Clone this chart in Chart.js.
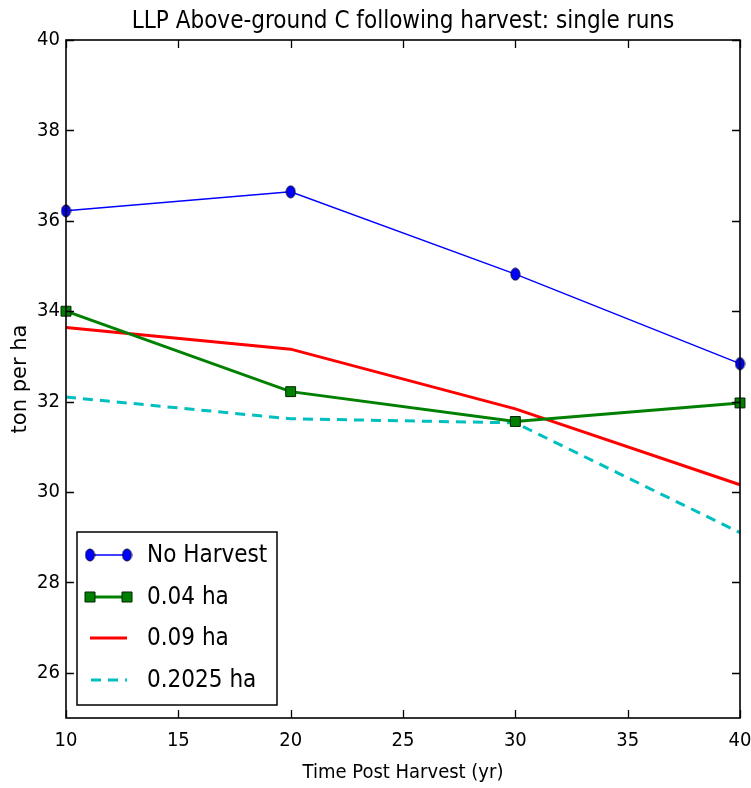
<!DOCTYPE html>
<html>
<head>
<meta charset="utf-8">
<script src="https://cdn.jsdelivr.net/npm/chart.js@4.4.1/dist/chart.umd.min.js"></script>
<style>
  html, body { margin: 0; padding: 0; background: #fff; }
  #wrap { width: 751px; height: 788px; }
</style>
</head>
<body>
<div id="wrap"><canvas id="myChart" width="751" height="788"></canvas></div>
<script>
// values
const years = [10, 20, 30, 40];
const noHarvest = [36.22, 36.64, 34.82, 32.84];
const ha004 = [34.0, 32.22, 31.56, 31.97];
const ha009 = [33.64, 33.16, 31.84, 30.16];
const ha02025 = [32.1, 31.62, 31.53, 29.1];
const yTicks = [26, 28, 30, 32, 34, 36, 38, 40];
const xTicks = [10, 15, 20, 25, 30, 35, 40];
const titleText = 'LLP Above-ground C following harvest: single runs';

const FONT = "'DejaVu Sans Condensed', 'DejaVu Sans', sans-serif";

function pts(arr) {
  return arr.map((v, i) => ({ x: years[i], y: v }));
}

// the original circles are a bit squeezed sideways
function ellipseMarker() {
  const c = document.createElement('canvas');
  c.width = 11; c.height = 14;
  const g = c.getContext('2d');
  g.fillStyle = '#0000ff';
  g.strokeStyle = '#000033';
  g.lineWidth = 1;
  g.beginPath();
  g.ellipse(5.5, 7, 4.5, 6, 0, 0, Math.PI * 2);
  g.fill(); g.stroke();
  return c;
}
const blueDot = ellipseMarker();

// matplotlib-like frame with inward ticks on all four sides, title over the axes
const framePlugin = {
  id: 'frame',
  afterDraw(chart) {
    const { ctx, chartArea: a, scales } = chart;
    ctx.save();
    ctx.strokeStyle = '#000';
    ctx.lineWidth = 1.3;
    const L = 8;
    ctx.beginPath();
    xTicks.forEach(t => {
      const px = Math.round(scales.x.getPixelForValue(t)) + 0.5;
      ctx.moveTo(px, a.bottom); ctx.lineTo(px, a.bottom - L);
      ctx.moveTo(px, a.top); ctx.lineTo(px, a.top + L);
    });
    yTicks.forEach(t => {
      const py = Math.round(scales.y.getPixelForValue(t)) + 0.5;
      ctx.moveTo(a.left, py); ctx.lineTo(a.left + L, py);
      ctx.moveTo(a.right, py); ctx.lineTo(a.right - L, py);
    });
    ctx.stroke();
    ctx.lineWidth = 1.6;
    ctx.strokeRect(a.left, a.top, a.right - a.left, a.bottom - a.top);

    ctx.fillStyle = '#000';
    ctx.font = '24px ' + FONT;
    ctx.textAlign = 'center';
    ctx.textBaseline = 'middle';
    ctx.fillText(titleText, (a.left + a.right) / 2, 22);
    ctx.restore();
  }
};

// boxed legend in the lower left corner, like the original
const boxLegend = {
  id: 'boxLegend',
  afterDraw(chart) {
    const { ctx, chartArea: a } = chart;
    const x0 = a.left + 11, y0 = 532, w = 200, h = 173;
    ctx.save();
    ctx.fillStyle = '#fff';
    ctx.fillRect(x0, y0, w, h);
    ctx.strokeStyle = '#000';
    ctx.lineWidth = 1.5;
    ctx.strokeRect(x0, y0, w, h);
    const rows = [555, 597, 638, 680];
    chart.data.datasets.forEach((ds, i) => {
      const y = rows[i];
      const sx0 = x0 + 13, sx1 = x0 + 50;
      ctx.strokeStyle = ds.borderColor;
      ctx.lineWidth = ds.borderWidth;
      ctx.setLineDash(ds.borderDash || []);
      ctx.beginPath();
      if (ds.borderDash) {
        ctx.moveTo(sx0 + 1, y); ctx.lineTo(sx1, y);
      } else {
        ctx.moveTo(sx0, y); ctx.lineTo(sx1, y);
      }
      ctx.stroke();
      ctx.setLineDash([]);
      if (ds.pointRadius > 0) {
        [sx0, sx1].forEach(px => {
          if (ds.pointStyle === 'rect') {
            ctx.fillStyle = ds.pointBackgroundColor;
            ctx.strokeStyle = ds.pointBorderColor;
            ctx.lineWidth = 1;
            ctx.beginPath();
            ctx.rect(px - 5, y - 5, 10, 10);
            ctx.fill(); ctx.stroke();
          } else {
            ctx.drawImage(blueDot, px - 5.5, y - 7);
          }
        });
      }
      ctx.fillStyle = '#000';
      ctx.font = '24px ' + FONT;
      ctx.textBaseline = 'middle';
      ctx.fillText(ds.label, x0 + 70, y + 1);
    });
    ctx.restore();
  }
};

const ctx = document.getElementById('myChart');
const myChart = new Chart(ctx, {
  type: 'line',
  data: {
    datasets: [
      {
        label: 'No Harvest',
        data: pts(noHarvest),
        borderColor: '#0000ff',
        borderWidth: 1.5,
        pointStyle: blueDot,
        pointRadius: 6,
        pointBackgroundColor: '#0000ff',
        pointBorderColor: '#000033',
        tension: 0
      },
      {
        label: '0.04 ha',
        data: pts(ha004),
        borderColor: '#008000',
        borderWidth: 3,
        pointStyle: 'rect',
        pointRadius: 7,
        pointBackgroundColor: '#008000',
        pointBorderColor: '#002200',
        pointBorderWidth: 1,
        tension: 0
      },
      {
        label: '0.09 ha',
        data: pts(ha009),
        borderColor: '#ff0000',
        borderWidth: 3,
        pointRadius: 0,
        tension: 0
      },
      {
        label: '0.2025 ha',
        data: pts(ha02025),
        borderColor: '#00bfbf',
        borderWidth: 3,
        borderDash: [10, 7],
        pointRadius: 0,
        tension: 0
      }
    ]
  },
  options: {
    responsive: false,
    animation: false,
    clip: false,
    layout: { padding: { left: 0, right: 11, top: 40, bottom: 0 } },
    plugins: {
      legend: { display: false },
      tooltip: { enabled: false },
      title: { display: false }
    },
    scales: {
      x: {
        type: 'linear',
        min: 10,
        max: 40,
        afterFit(s) { s.height = 70; s.paddingLeft = 0; s.paddingRight = 0; },
        afterBuildTicks(s) { s.ticks = xTicks.map(v => ({ value: v })); },
        grid: { display: false, drawTicks: false },
        border: { display: false },
        ticks: { color: '#000', padding: 11, font: { family: FONT, size: 20 }, maxRotation: 0 },
        title: {
          display: true,
          text: 'Time Post Harvest (yr)',
          color: '#000',
          font: { family: FONT, size: 20, lineHeight: 1.2 },
          padding: { top: 3, bottom: 3 }
        }
      },
      y: {
        type: 'linear',
        min: 25,
        max: 40,
        afterFit(s) { s.width = 66; s.paddingTop = 0; s.paddingBottom = 0; },
        afterBuildTicks(s) { s.ticks = yTicks.map(v => ({ value: v })); },
        grid: { display: false, drawTicks: false },
        border: { display: false },
        ticks: { color: '#000', padding: 6, font: { family: FONT, size: 20 } },
        title: {
          display: true,
          text: 'ton per ha',
          color: '#000',
          font: { family: "'DejaVu Sans', sans-serif", size: 21, lineHeight: 1.2 },
          padding: { top: 8, bottom: 0 }
        }
      }
    }
  },
  plugins: [framePlugin, boxLegend]
});
</script>
</body>
</html>
